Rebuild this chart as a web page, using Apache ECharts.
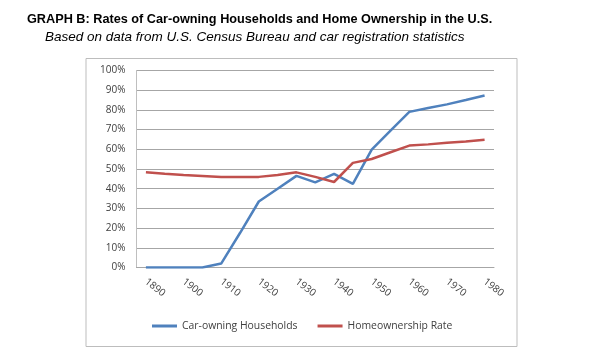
<!DOCTYPE html>
<html>
<head>
<meta charset="utf-8">
<script src="https://cdn.jsdelivr.net/npm/echarts@6/dist/echarts.min.js"></script>
<style>html,body{margin:0;padding:0;background:#fff;}#c{width:600px;height:360px;}</style>
</head>
<body>
<div id="c"></div>
<script>
var years = ['1890','1895','1900','1905','1910','1915','1920','1925','1930','1935','1940','1945','1950','1955','1960','1965','1970','1975','1980'];
var carOwning = [0,0,0,0,2,17.5,33.5,40,46.5,43.2,47.5,42.4,59.8,69.5,79,81,82.8,85,87.3];
var homeOwnership = [48.3,47.6,47,46.5,46,45.9,46,47,48.3,46,43.4,53.1,55.1,58.5,61.9,62.5,63.3,64,64.8];
var seriesNames = ['Car-owning Households','Homeownership Rate'];
var titleText = 'GRAPH B: Rates of Car-owning Households and Home Ownership in the U.S.';
var subtitleText = 'Based on data from U.S. Census Bureau and car registration statistics';

var chart = echarts.init(document.getElementById('c'), null, {renderer:'canvas'});
var lab = {fontFamily:'Open Sans', fontSize:10, color:'#404040'};
chart.setOption({
  animation:false,
  backgroundColor:'#fff',
  title:[
    {text:titleText, left:27, top:13, padding:0,
     textStyle:{fontFamily:'Liberation Sans', fontWeight:'bold', fontSize:12.7, color:'#000'}},
    {text:subtitleText, left:45, top:30.5, padding:0,
     textStyle:{fontFamily:'Liberation Sans', fontStyle:'italic', fontWeight:'normal', fontSize:13.5, color:'#000'}}
  ],
  graphic:[{type:'rect', shape:{x:86, y:58.5, width:431, height:288}, style:{fill:null, stroke:'#bdbdbd', lineWidth:1}, silent:true}],
  grid:{left:136.5, right:106, top:70.5, bottom:92.5},
  legend:{
    data:seriesNames, left:152, top:321, padding:0, icon:'rect', itemWidth:25, itemHeight:3, itemGap:20,
    textStyle:{fontFamily:'Open Sans', fontSize:10.4, color:'#404040'}
  },
  xAxis:{
    type:'category', data:years, boundaryGap:true,
    axisLine:{show:true, lineStyle:{color:'#a6a6a6', width:1}},
    axisTick:{show:false},
    axisLabel:Object.assign({interval:1, rotate:-38, margin:13}, lab),
    splitLine:{show:false}
  },
  yAxis:{
    type:'value', min:0, max:100, interval:10,
    axisLine:{show:true, lineStyle:{color:'#bfbfbf', width:1}},
    axisTick:{show:false},
    axisLabel:Object.assign({formatter:'{value}%', margin:11}, lab),
    splitLine:{show:true, lineStyle:{color:'#a6a6a6', width:1}}
  },
  series:[
    {name:seriesNames[0], type:'line', data:carOwning, symbol:'none', color:'#4F81BD', lineStyle:{width:2.5, color:'#4F81BD'}},
    {name:seriesNames[1], type:'line', data:homeOwnership, symbol:'none', color:'#C0504D', lineStyle:{width:2.5, color:'#C0504D'}}
  ]
});
</script>
</body>
</html>
